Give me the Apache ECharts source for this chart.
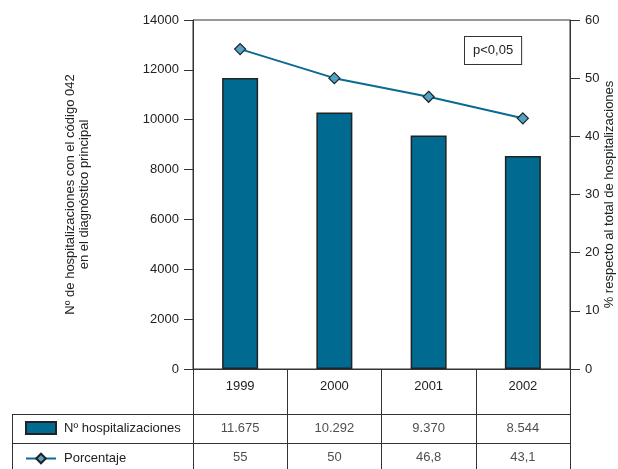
<!DOCTYPE html>
<html><head><meta charset="utf-8">
<script src="https://cdn.jsdelivr.net/npm/echarts@6/dist/echarts.min.js"></script>
<style>html,body{margin:0;padding:0;background:#fff}#c{width:618px;height:469px}</style>
</head><body><div id="c"></div>
<script>
const years = ['1999', '2000', '2001', '2002'];
const hospitalizaciones = [11675, 10292, 9370, 8544];
const porcentaje = [55, 50, 46.8, 43.1];
const leftTicks = {min: 0, max: 14000, interval: 2000};
const rightTicks = {min: 0, max: 60, interval: 10};
const rowKeys = ['hosp', 'pct'];
const seriesNames = ['Nº hospitalizaciones', 'Porcentaje'];

const FONT = "'Liberation Sans', Arial, sans-serif";
const TXT = '#222';
const LINE = '#333';

function fmtThousands(v) { return String(v).replace(/\B(?=(\d{3})+(?!\d))/g, '.'); }
function fmtDec(v) { return String(v).replace('.', ','); }

const cellData = [];
years.forEach((y, i) => {
  cellData.push([y, 'hosp', fmtThousands(hospitalizaciones[i])]);
  cellData.push([y, 'pct', fmtDec(porcentaje[i])]);
});

const ts = (extra) => Object.assign({color: TXT, fontSize: 13, fontFamily: FONT}, extra || {});

const chart = echarts.init(document.getElementById('c'), null, {renderer: 'canvas'});
chart.setOption({
  animation: false,
  textStyle: {fontFamily: FONT},
  grid: [
    {left: 193, right: 48, top: 20, bottom: 100, show: true, borderColor: LINE, borderWidth: 1,
     backgroundColor: 'transparent', containLabel: false, outerBoundsMode: 'none'},
    {left: 193, right: 48, top: 414, height: 58, containLabel: false, outerBoundsMode: 'none'}
  ],
  legend: {
    data: [{name: seriesNames[0], icon: 'rect'}, {name: seriesNames[1]}],
    orient: 'vertical', left: 25, top: 421, padding: 0, height: 60,
    itemWidth: 30, itemHeight: 12, itemGap: 17,
    textStyle: ts({padding: [0, 0, 0, 3]}), selectedMode: false
  },
  xAxis: [
    {type: 'category', data: years, gridIndex: 0, boundaryGap: true,
     axisLine: {lineStyle: {color: LINE, width: 1}},
     axisTick: {show: true, length: 45, inside: false, lineStyle: {color: LINE, width: 1}},
     axisLabel: ts({margin: 11})},
    {type: 'category', data: years, gridIndex: 1, boundaryGap: true,
     axisLine: {show: false}, axisTick: {show: false}, axisLabel: {show: false},
     splitLine: {show: true, lineStyle: {color: LINE, width: 1}}}
  ],
  yAxis: [
    {type: 'value', gridIndex: 0, min: leftTicks.min, max: leftTicks.max, interval: leftTicks.interval,
     position: 'left',
     name: 'Nº de hospitalizaciones con el código 042\nen el diagnóstico principal',
     nameLocation: 'middle', nameGap: 102,
     nameTextStyle: ts({lineHeight: 14}),
     axisLine: {show: true, lineStyle: {color: LINE}},
     axisTick: {show: true, length: 9, lineStyle: {color: LINE}},
     axisLabel: ts({margin: 14, formatter: v => String(v)}),
     splitLine: {show: false}},
    {type: 'value', gridIndex: 0, min: rightTicks.min, max: rightTicks.max, interval: rightTicks.interval,
     position: 'right',
     name: '% respecto al total de hospitalizaciones',
     nameLocation: 'middle', nameGap: 33, nameMoveOverlap: false,
     nameTextStyle: ts(),
     axisLine: {show: true, lineStyle: {color: LINE}},
     axisTick: {show: true, length: 10, lineStyle: {color: LINE}},
     axisLabel: ts({margin: 15, formatter: v => String(v)}),
     splitLine: {show: false}},
    {type: 'category', gridIndex: 1, data: rowKeys, inverse: true,
     axisLine: {show: true, lineStyle: {color: LINE}}, axisTick: {show: false}, axisLabel: {show: false},
     splitLine: {show: true, lineStyle: {color: LINE, width: 1}}}
  ],
  series: [
    {name: seriesNames[0], type: 'bar', xAxisIndex: 0, yAxisIndex: 0, data: hospitalizaciones,
     barWidth: 36,
     itemStyle: {color: '#006a90', borderColor: '#222', borderWidth: 1.5}},
    {name: seriesNames[1], type: 'line', xAxisIndex: 0, yAxisIndex: 1, data: porcentaje,
     symbol: 'diamond', symbolSize: 11,
     lineStyle: {color: '#0a6a92', width: 2},
     itemStyle: {color: '#4fa3c5', borderColor: '#222', borderWidth: 1.2}},
    {name: 'tabla', type: 'scatter', xAxisIndex: 1, yAxisIndex: 2, data: cellData,
     symbolSize: 1, itemStyle: {color: 'rgba(0,0,0,0)'}, silent: true,
     label: Object.assign({show: true, position: 'inside', formatter: p => p.value[2]}, ts())}
  ],
  graphic: [
    {type: 'line', shape: {x1: 12, y1: 414.5, x2: 193, y2: 414.5}, style: {stroke: LINE, lineWidth: 1}},
    {type: 'line', shape: {x1: 12, y1: 443.5, x2: 193, y2: 443.5}, style: {stroke: LINE, lineWidth: 1}},
    {type: 'line', shape: {x1: 12.5, y1: 414, x2: 12.5, y2: 469}, style: {stroke: LINE, lineWidth: 1}},
    {type: 'text', left: 464, top: 36,
     style: {text: 'p<0,05', font: '13px ' + FONT, fill: TXT,
             backgroundColor: '#fff', borderColor: LINE, borderWidth: 1, padding: [7, 8, 7, 8]}}
  ]
});
</script>
</body></html>
